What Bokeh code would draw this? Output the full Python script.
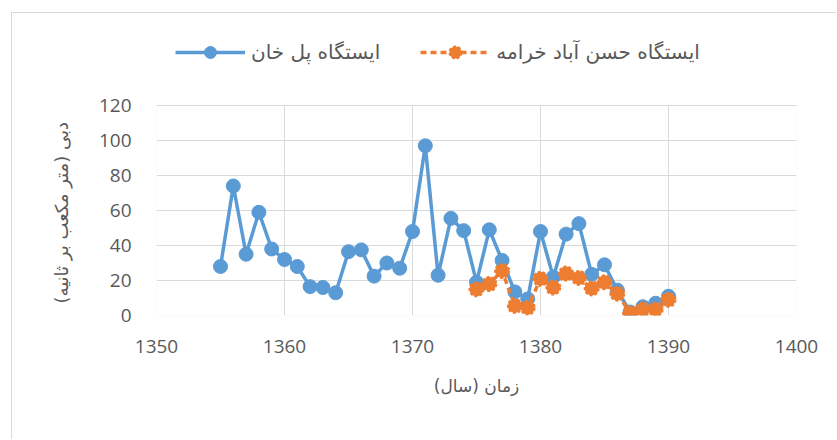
from bokeh.plotting import figure
from bokeh.models import Legend, LegendItem, FixedTicker, Range1d, BoxAnnotation, Title
from bokeh.embed import file_html
from bokeh.resources import INLINE

# Data
years_polkhan = list(range(1355, 1391))
flow_polkhan = [28, 74, 35, 59, 38, 32, 28, 16.5, 16, 13,
                36.5, 37.5, 22.5, 30, 27, 48, 97, 23, 55.5, 48.5,
                19, 49, 31.5, 13.5, 9.5, 48, 22, 46.5, 52.5, 23.5,
                29, 14.5, 2, 5, 7, 11]
years_hasan = list(range(1375, 1391))
flow_hasan = [15, 18, 25.5, 5.5, 4.5, 21, 16, 24, 21.5, 15.5,
              19, 12.5, 1.3, 3.5, 3.5, 9]
x_ticks = [1350, 1360, 1370, 1380, 1390, 1400]
y_ticks = [0, 20, 40, 60, 80, 100, 120]
name_polkhan = "ایستگاه پل خان"
name_hasan = "ایستگاه حسن آباد خرامه"
x_title = "زمان (سال)"
y_title = "دبی (متر مکعب بر ثانیه)"

BLUE = "#5B9BD5"
ORANGE = "#ED7D31"
GRID = "#D9D9D9"
TXT = "#595959"

Y_MAX = 120
# frame extends above the plot area to hold the legend (285 px frame, 210 px plot area)
y_top = Y_MAX * 285 / 210

p = figure(output_backend="svg", toolbar_location=None,
           frame_width=640, frame_height=285,
           min_border_left=156, min_border_right=40,
           min_border_top=30, min_border_bottom=124,
           x_range=Range1d(1350, 1400), y_range=Range1d(0, y_top))
p.outline_line_color = None
p.border_fill_alpha = 0
p.background_fill_alpha = 0
p.styles = {
    "background": "linear-gradient(#D9D9D9,#D9D9D9) 11px 12px / 1px 100% no-repeat, "
                  "linear-gradient(#D9D9D9,#D9D9D9) 11px 12px / 100% 1px no-repeat, white"
}

for ax in (p.xaxis[0], p.yaxis[0]):
    ax.major_tick_line_color = None
    ax.minor_tick_line_color = None
    ax.axis_line_color = None
    ax.major_label_text_font = "Open Sans"
    ax.major_label_text_font_size = "19px"
    ax.major_label_text_color = TXT
    ax.axis_label_text_font = "DejaVu Sans"
    ax.axis_label_text_font_size = "17px"
    ax.axis_label_text_font_style = "normal"
    ax.axis_label_text_color = TXT

p.xaxis.ticker = FixedTicker(ticks=x_ticks)
p.yaxis.ticker = FixedTicker(ticks=y_ticks)
p.yaxis.bounds = (0, Y_MAX)
p.xaxis.major_label_standoff = 18
p.yaxis.major_label_standoff = 19
p.xaxis.axis_label = x_title
p.xaxis.axis_label_standoff = 20

# y-axis title, placed along the plot area (below the legend strip)
p.add_layout(Title(text=y_title, align="left", offset=12, standoff=48,
                   text_font="DejaVu Sans", text_font_size="18px",
                   text_font_style="normal", text_color=TXT), "left")

p.xgrid.grid_line_color = GRID
p.ygrid.grid_line_color = GRID
p.xgrid.ticker = FixedTicker(ticks=x_ticks)
p.ygrid.ticker = FixedTicker(ticks=y_ticks)
p.xgrid.cross_bounds = (0, Y_MAX)

# plot-area border
p.add_layout(BoxAnnotation(left=x_ticks[0], right=x_ticks[-1], bottom=0, top=Y_MAX,
                           fill_alpha=0, line_color=GRID, line_width=1, level="underlay"))

l1 = p.line(years_polkhan, flow_polkhan, line_color=BLUE, line_width=3.5)
m1 = p.scatter(years_polkhan, flow_polkhan, size=14, fill_color=BLUE, line_color=BLUE)
l2 = p.line(years_hasan, flow_hasan, line_color=ORANGE, line_width=3.5, line_dash="6 4")
m2 = p.scatter(years_hasan, flow_hasan, size=14, fill_color=ORANGE, line_color=ORANGE,
               line_dash="3 2", line_width=2)

legend = Legend(items=[LegendItem(label=name_polkhan, renderers=[l1, m1]),
                       LegendItem(label=name_hasan, renderers=[l2, m2])],
                orientation="horizontal", location=(19, 248),
                glyph_width=70, glyph_height=30, label_height=30,
                label_standoff=6, spacing=40, padding=0, margin=0,
                border_line_color=None, background_fill_alpha=0,
                label_text_font="DejaVu Sans", label_text_font_size="20px",
                label_text_color=TXT)
p.add_layout(legend, "center")

open("out.html", "w").write(file_html(p, INLINE))
